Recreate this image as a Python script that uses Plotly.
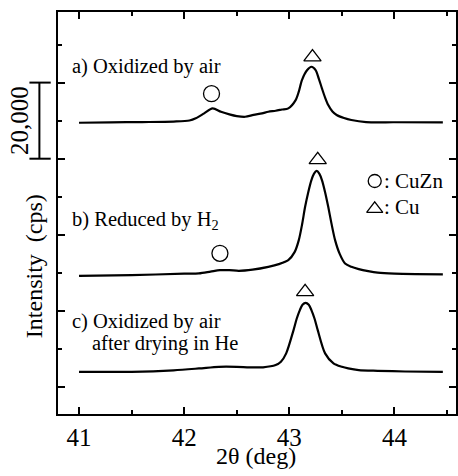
import plotly.graph_objects as go

# ---------------- data ----------------
two_theta_a = [41.0, 41.3, 41.6, 41.9, 42.05, 42.11, 42.19, 42.27, 42.35, 42.43, 42.50, 42.58,
               42.66, 42.74, 42.80, 42.87, 42.93, 42.99, 43.06, 43.09, 43.12, 43.17, 43.21,
               43.25, 43.28, 43.31, 43.34, 43.37, 43.41, 43.45, 43.52, 43.59, 43.73, 44.0, 44.46]
intensity_a = [3950, 4050, 4130, 4260, 4530, 5100, 6420, 7730, 6840, 6160, 5710, 5520,
               6030, 6420, 6840, 7100, 7420, 7730, 9910, 12150, 15170, 17800, 18660,
               17800, 15560, 12990, 10570, 8600, 6890, 5970, 5180, 4660, 4130, 4080, 4050]

two_theta_b = [41.0, 41.5, 42.0, 42.14, 42.25, 42.34, 42.43, 42.52, 42.65, 42.80, 42.90, 42.99,
               43.05, 43.09, 43.12, 43.15, 43.18, 43.21, 43.235, 43.26, 43.285, 43.31, 43.34,
               43.37, 43.40, 43.435, 43.48, 43.53, 43.59, 43.66, 43.75, 43.84, 44.0, 44.2, 44.46]
intensity_b = [3820, 4000, 4390, 4450, 4920, 5310, 5310, 5130, 5440, 6180, 6890, 7940,
               10040, 13200, 17140, 21950, 25810, 28970, 30670, 31410, 30670, 28970, 25810,
               21950, 17670, 13200, 9520, 7070, 6180, 5580, 5050, 4660, 4390, 4260, 4180]

two_theta_c = [41.0, 41.5, 41.9, 42.14, 42.33, 42.50, 42.62, 42.75, 42.87, 42.92, 42.97, 43.04,
               43.07, 43.10, 43.125, 43.155, 43.185, 43.21, 43.24, 43.27, 43.34, 43.42, 43.50,
               43.56, 43.66, 43.84, 44.1, 44.46]
intensity_c = [4000, 4000, 4390, 4870, 5310, 5310, 5180, 5180, 5760, 6630, 8840, 14960,
               17930, 20210, 21610, 22130, 21610, 20210, 17930, 14960, 8840, 6210, 5310,
               4890, 4450, 4260, 4080, 4000]

offsets = [65500, 25400, 0]
sample_labels = ["a) Oxidized by air", "b) Reduced by H<sub>2</sub>", "c) Oxidized by air"]
sample_label_y = [84170, 43890, 17160]
sub_label = "after drying in He"

# phase markers (2theta, plotted intensity)
cuzn_theta = [42.26, 42.34]
cuzn_y = [77080, 35140]
cu_theta = [43.22, 43.27, 43.15]
cu_y = [86700, 59700, 25000]

legend_names = [": CuZn", ": Cu"]
legend_theta = 43.812
legend_y = [54140, 47300]

x_ticks = [41, 42, 43, 44]
scale_bar = [60000, 80000]
scale_label = "20,000"

FONT = "Liberation Serif, Times New Roman, serif"

fig = go.Figure()
for th, inten, off in zip([two_theta_a, two_theta_b, two_theta_c],
                          [intensity_a, intensity_b, intensity_c], offsets):
    fig.add_trace(go.Scatter(x=th, y=[v + off for v in inten], mode="lines",
                             line=dict(color="black", width=2.2, shape="spline", smoothing=0.8),
                             hoverinfo="skip"))

fig.add_trace(go.Scatter(x=cuzn_theta, y=cuzn_y, mode="markers",
                         marker=dict(symbol="circle-open", size=16, color="black",
                                     line=dict(width=1.3, color="black"))))
fig.add_trace(go.Scatter(x=cu_theta, y=cu_y, mode="markers",
                         marker=dict(symbol="triangle-up-open", size=15, color="black",
                                     line=dict(width=1.3, color="black"))))
# legend glyphs
fig.add_trace(go.Scatter(x=[legend_theta], y=[legend_y[0]], mode="markers",
                         marker=dict(symbol="circle-open", size=13, color="black",
                                     line=dict(width=1.3, color="black"))))
fig.add_trace(go.Scatter(x=[legend_theta], y=[legend_y[1] - 500], mode="markers",
                         marker=dict(symbol="triangle-up-open", size=14, color="black",
                                     line=dict(width=1.3, color="black"))))

ann = []
for txt, yy in zip(sample_labels, sample_label_y):
    ann.append(dict(x=40.915, y=yy, xref="x", yref="y", text=txt, showarrow=False,
                    xanchor="left", yanchor="middle", font=dict(size=20.5)))
ann.append(dict(x=41.103, y=11480, xref="x", yref="y", text=sub_label, showarrow=False,
                xanchor="left", yanchor="middle", font=dict(size=20.5)))
for txt, yy in zip(legend_names, legend_y):
    ann.append(dict(x=43.885, y=yy, xref="x", yref="y", text=txt, showarrow=False,
                    xanchor="left", yanchor="middle", font=dict(size=21)))
ann.append(dict(x=0.4975, y=-0.104, xref="paper", yref="paper", text="2θ (deg)",
                showarrow=False, xanchor="center", yanchor="middle", font=dict(size=24)))
ann.append(dict(x=-0.06, y=0.368, xref="paper", yref="paper", text="Intensity  (cps)",
                showarrow=False, textangle=-90, xanchor="center", yanchor="middle",
                font=dict(size=24)))
ann.append(dict(x=-0.097, y=sum(scale_bar) / 2, xref="paper", yref="y", text=scale_label,
                showarrow=False, textangle=-90, xanchor="center", yanchor="middle",
                font=dict(size=25)))

shapes = [
    dict(type="line", xref="paper", yref="y", x0=-0.04675, x1=-0.04675,
         y0=scale_bar[0], y1=scale_bar[1], line=dict(color="black", width=2)),
    dict(type="line", xref="paper", yref="y", x0=-0.0718, x1=-0.0183,
         y0=scale_bar[0], y1=scale_bar[0], line=dict(color="black", width=2)),
    dict(type="line", xref="paper", yref="y", x0=-0.0718, x1=-0.0183,
         y0=scale_bar[1], y1=scale_bar[1], line=dict(color="black", width=2)),
]

fig.update_layout(
    width=458, height=476,
    margin=dict(l=58, r=0, t=12, b=62),
    plot_bgcolor="white", paper_bgcolor="white",
    showlegend=False,
    font=dict(family=FONT, color="black"),
    annotations=ann, shapes=shapes,
    xaxis=dict(range=[40.80, 44.585], tickvals=x_ticks, ticks="inside", ticklen=7,
               tickwidth=2, tickcolor="black", showline=True, linewidth=2, linecolor="black",
               mirror="ticks", showgrid=False, zeroline=False,
               tickfont=dict(size=25, family=FONT, color="black"),
               minor=dict(dtick=0.5, tick0=41, ticks="inside", ticklen=4, tickwidth=2,
                          tickcolor="black", showgrid=False)),
    yaxis=dict(range=[-7096, 98555], tick0=0, dtick=20000, ticks="inside", ticklen=7,
               tickwidth=2, tickcolor="black", showline=True, linewidth=2, linecolor="black",
               mirror="ticks", showgrid=False, zeroline=False, showticklabels=False,
               minor=dict(dtick=10000, tick0=0, ticks="inside", ticklen=4, tickwidth=2,
                          tickcolor="black", showgrid=False)),
)

fig.write_html("out.html", config={"displayModeBar": False},
               post_script="document.body.style.margin='0';document.body.style.overflow='hidden';")
